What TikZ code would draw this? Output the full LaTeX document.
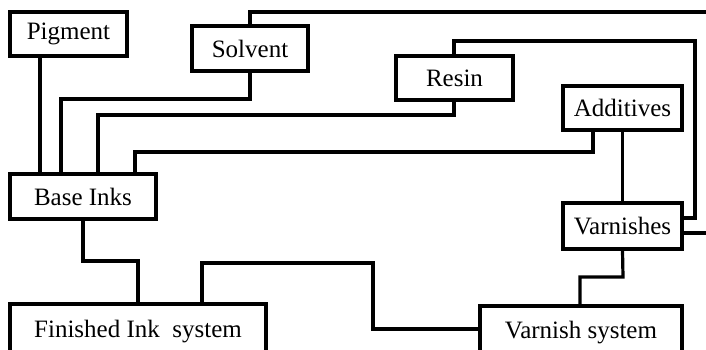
\documentclass[tikz,border=0pt]{standalone}
\usepackage{fontspec}
\setmainfont{Liberation Serif}
\begin{document}
\begin{tikzpicture}[x=1pt,y=-1pt,
  box/.style={draw,line width=3.2pt,inner sep=0pt,fill=white,font=\fontsize{25}{28}\selectfont},
  conn/.style={line width=3.2pt,line join=miter}]
\useasboundingbox (0,0) rectangle (706,350);
\clip (0,0) rectangle (706,350);
% connector bend points
\coordinate (s1) at (250,12); \coordinate (s2) at (712,12); \coordinate (s3) at (712,233);
\coordinate (t1) at (454,41); \coordinate (t2) at (695,41); \coordinate (t3) at (695,218);
\coordinate (k1) at (250,99); \coordinate (k2) at (61,99);
\coordinate (r1) at (454,115); \coordinate (r2) at (98,115);
\coordinate (a0) at (593,152); \coordinate (a1) at (135,152);
\coordinate (p1) at (40,0);
\coordinate (v1) at (623,277); \coordinate (v2) at (580,277);
\coordinate (b1) at (83,261); \coordinate (b2) at (138,261);
\coordinate (f1) at (202,263); \coordinate (f2) at (373,263); \coordinate (f3) at (373,329);

\node[box,minimum width=117pt,minimum height=44pt] (pig) at (68.5,34) {Pigment};
\node[box,minimum width=116pt,minimum height=45pt] (sol) at (250,48.5) {Solvent};
\node[box,minimum width=117pt,minimum height=44pt] (res) at (454.5,78) {Resin};
\node[box,minimum width=119pt,minimum height=44pt] (add) at (622.5,108) {Additives};
\node[box,minimum width=119pt,minimum height=46pt] (var) at (622.5,226) {Varnishes};
\node[box,minimum width=146pt,minimum height=45pt] (base) at (83,196.5) {Base Inks};
\node[box,minimum width=256pt,minimum height=56pt] (fin) at (138,332) {Finished Ink\ \ system};
\node[box,minimum width=202pt,minimum height=54pt] (vs) at (581,333) {Varnish system};

\draw[conn] (pig.south -| p1) -- (base.north -| p1);
\draw[conn] (sol.south) -- (k1) -- (k2) -- (base.north -| k2);
\draw[conn] (res.south -| r1) -- (r1) -- (r2) -- (base.north -| r2);
\draw[conn] (add.south -| a0) -- (a0) -- (a1) -- (base.north -| a1);
\draw[conn] (add.south) -- (var.north);
\draw[conn] (sol.north) -- (s1) -- (s2) -- (s3) -- (var.east |- s3);
\draw[conn] (res.north -| t1) -- (t1) -- (t2) -- (t3) -- (var.east |- t3);
\draw[conn] (var.south) -- (v1) -- (v2) -- (vs.north -| v2);
\draw[conn] (base.south) -- (b1) -- (b2) -- (fin.north -| b2);
\draw[conn] (fin.north -| f1) -- (f1) -- (f2) -- (f3) -- (vs.west |- f3);
\end{tikzpicture}
\end{document}
